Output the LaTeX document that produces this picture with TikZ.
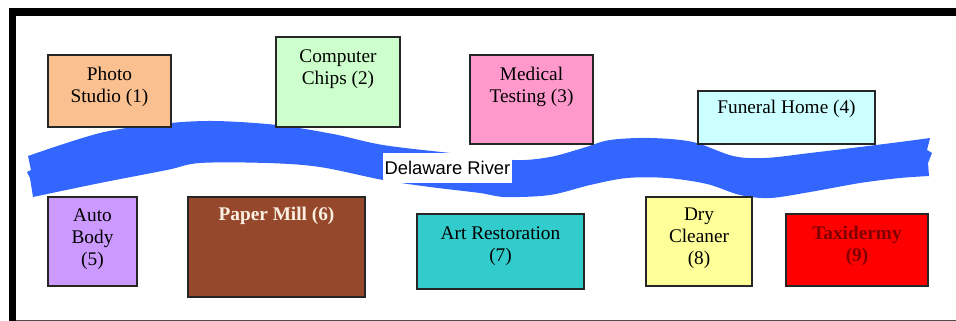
\documentclass[tikz,border=0pt]{standalone}
\usepackage{fontspec}
\setmainfont{Liberation Serif}
\newfontfamily\arial{Liberation Sans}
\usetikzlibrary{positioning}
\definecolor{photo}{RGB}{250,192,143}
\definecolor{chips}{RGB}{204,255,204}
\definecolor{medical}{RGB}{255,153,204}
\definecolor{funeral}{RGB}{204,255,255}
\definecolor{auto}{RGB}{204,153,255}
\definecolor{paper}{RGB}{150,72,44}
\definecolor{art}{RGB}{51,204,204}
\definecolor{dry}{RGB}{255,255,153}
\definecolor{taxi}{RGB}{255,0,0}
\definecolor{water}{RGB}{51,102,255}
\definecolor{maroon}{RGB}{128,0,0}
\definecolor{cream}{RGB}{250,240,225}

\begin{document}
\begin{tikzpicture}[x=1pt,y=-1pt,
		box/.style={draw=black!85, line width=1.2pt, rectangle, inner sep=0pt},
		txt/.style={align=center, inner sep=0pt, font=\fontsize{19.3}{22}\selectfont},
		bold/.style={txt, font=\fontsize{19.3}{22}\selectfont\bfseries}]
		\useasboundingbox (0,0) rectangle (956,321);
		\fill[black] (9,8) rectangle (16,321);
		\fill[black] (9,8) rectangle (956,16);
		\draw[black!70, line width=1pt] (16,320) -- (956,320);
		\fill[water] plot[smooth, tension=0.55] coordinates {(28,156) (100,133) (160,124) (213,121) (277,125) (333,134) (383,145) (450,153) (513,160) (550,157) (583,148) (610,140) (650,138) (693,142) (733,156) (765,158) (810,153) (860,147) (900,142) (930,138)}
			-- (927,150) -- (932,153) -- (928,163) -- (929,176)
			-- plot[smooth, tension=0.55] coordinates {(929,176) (900,178) (860,183) (810,192) (770,198) (740,195) (707,184) (667,178) (627,178) (590,185) (550,195) (505,197) (480,193) (430,187) (383,180) (320,167) (267,163) (200,163) (167,170) (100,183) (33,197)}
			-- (30,178) -- (27,172) -- (31,170) -- cycle;
		\node (river) [fill=white, inner sep=0pt, minimum width=129pt, minimum height=30pt, font=\arial\fontsize{18.4}{20}\selectfont] at (447.5,168) {Delaware River};
		\node (b1) [box, fill=photo, minimum width=123pt, minimum height=72pt] at (109.5,91) {};
		\node (b2) [box, fill=chips, minimum width=124pt, minimum height=90pt] at (338,82) {};
		\node (b3) [box, fill=medical, minimum width=123pt, minimum height=89pt] at (531.5,99.5) {};
		\node (b4) [box, fill=funeral, minimum width=177pt, minimum height=53pt] at (786.5,117.5) {};
		\node (b5) [box, fill=auto, minimum width=89pt, minimum height=89pt] at (92.5,241.5) {};
		\node (b6) [box, fill=paper, minimum width=177pt, minimum height=100pt] at (276.5,247) {};
		\node (b7) [box, fill=art, minimum width=167pt, minimum height=75pt] at (500.5,251.5) {};
		\node (b8) [box, fill=dry, minimum width=106pt, minimum height=89pt] at (699,241.5) {};
		\node (b9) [box, fill=taxi, minimum width=142pt, minimum height=72pt] at (857,250) {};
		\node (t1) [txt, below=13pt of b1.north] {Photo\\Studio (1)};
		\node (t2) [txt, below=13pt of b2.north] {Computer\\Chips (2)};
		\node (t3) [txt, below=13pt of b3.north] {Medical\\Testing (3)};
		\node (t4) [txt, below=10pt of b4.north] {Funeral Home (4)};
		\node (t5) [txt, below=12pt of b5.north] {Auto\\Body\\(5)};
		\node (t6) [bold, text=cream, below=11pt of b6.north] {Paper Mill (6)};
		\node (t7) [txt, below=13pt of b7.north] {Art Restoration\\(7)};
		\node (t8) [txt, below=11pt of b8.north] {Dry\\Cleaner\\(8)};
		\node (t9) [bold, text=maroon, below=13pt of b9.north] {Taxidermy\\(9)};
\end{tikzpicture}
\end{document}
